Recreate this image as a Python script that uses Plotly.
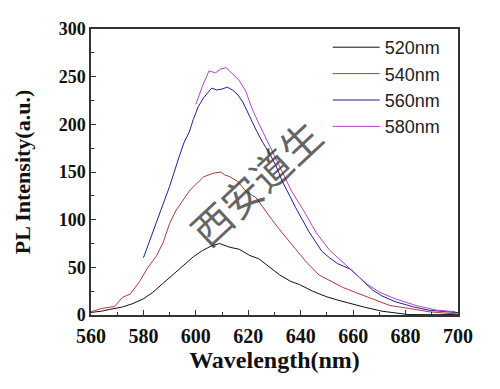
import plotly.graph_objects as go

# ---- data ----
x520 = [560, 564, 567, 572, 576, 580, 583.5, 587, 591, 595, 599, 602.5, 606, 609, 611, 613, 616.5,
        620.5, 624, 628, 632, 636, 639.5, 644.5, 650, 655, 660, 664, 671, 676, 681, 690, 700]
y520 = [2.7, 4, 5.8, 8.4, 12, 17, 23.6, 32, 42, 52, 61, 67.6, 72.6, 75, 73, 71, 69,
        62.5, 59, 50.7, 42, 35.5, 32, 25, 19, 15, 11, 8.4, 4, 2, 0.5, 0.3, 0.5]

x540 = [560, 564, 569, 572, 575, 578.5, 581.5, 585, 587.5, 590, 592.5, 595, 597.5, 600, 603, 606.5,
        609.5, 611, 613, 616, 619, 623, 625.5, 629, 633, 637, 642, 647, 652, 656, 661, 667.5,
        674, 681.5, 689, 695, 700]
y540 = [3.4, 6.8, 9, 18.5, 22, 35, 49, 62, 76, 96, 110, 120, 130, 137, 145, 148.6,
        150, 147, 145, 140, 130, 123, 113, 100, 86, 73, 56, 42, 35, 29, 23.6, 17,
        10, 6.8, 3.4, 2, 1]

x560 = [580, 585, 590, 593.5, 595.5, 597.5, 599, 601, 603, 606, 608, 610, 612, 614, 616, 618,
        620.5, 623, 625.5, 628, 630.5, 633, 636, 638, 643, 648, 651, 654, 659, 664, 667.5,
        671, 676, 683, 689, 695, 700]
y560 = [60, 97, 135, 165, 181, 192, 205, 219, 228, 238, 236, 237, 239, 236, 231, 223,
        208, 194, 181, 170, 157, 140, 124, 113, 88, 67, 60, 54, 48, 35, 26,
        20, 14, 8.5, 5, 3.5, 2.5]

x580 = [600, 602.5, 605, 607.5, 609.5, 611.5, 614, 616.5, 619, 621.5, 624, 627, 629.5, 632,
        634.5, 636.5, 641, 646, 651, 655, 659, 665, 670, 676, 684, 692, 699]
y580 = [221, 240, 256, 254, 258, 259.5, 253, 246, 235, 216, 201, 184, 170, 155,
        140, 130, 110, 86, 68, 58, 49, 33, 24, 17, 10, 5, 3.5]

series = [
    ("520nm", x520, y520, "#111111"),
    ("540nm", x540, y540, "#b03a3a"),
    ("560nm", x560, y560, "#1f1f8f"),
    ("580nm", x580, y580, "#b044c4"),
]

x_ticks = [560, 580, 600, 620, 640, 660, 680, 700]
y_ticks = [0, 50, 100, 150, 200, 250, 300]

fig = go.Figure()
for name, xs, ys, col in series:
    fig.add_trace(go.Scatter(x=xs, y=ys, mode="lines", name=name,
                             line=dict(color=col, width=1)))

common = dict(showline=True, linecolor="#333", linewidth=1.5, mirror=True,
              ticks="inside", ticklen=5, tickwidth=1.2, tickcolor="#333",
              showgrid=False, zeroline=False)

fig.update_xaxes(range=[560, 700], tickvals=x_ticks,
                 ticktext=[f"<b>{v}</b>" for v in x_ticks],
                 ticklabelstandoff=2,
                 tickfont=dict(family="Liberation Serif", size=20, color="#111"),
                 minor=dict(ticks="inside", ticklen=3, tickwidth=1, tickcolor="#333", dtick=10, tick0=560),
                 title=dict(text="<b>Wavelength(nm)</b>",
                            font=dict(family="Liberation Serif", size=24, color="#111"),
                            standoff=5),
                 **common)
fig.update_yaxes(range=[0, 300], tickvals=y_ticks,
                 ticktext=[f"<b>{v}</b>" for v in y_ticks],
                 tickfont=dict(family="Liberation Serif", size=18, color="#111"),
                 minor=dict(ticks="inside", ticklen=3, tickwidth=1, tickcolor="#333", dtick=25, tick0=0),
                 title=dict(text="<b>PL Intensity(a.u.)</b>",
                            font=dict(family="Liberation Serif", size=22, color="#111"),
                            standoff=22),
                 **common)

fig.add_annotation(x=622.7, y=139.8, xref="x", yref="y", text="西安道生",
                   showarrow=False, textangle=-43,
                   font=dict(family="Noto Sans CJK SC", size=40, color="rgba(50,50,50,0.75)"))

fig.update_layout(
    width=492, height=381,
    margin=dict(l=83, r=42, t=11, b=74),
    paper_bgcolor="white", plot_bgcolor="white",
    showlegend=True,
    legend=dict(x=0.645, y=1.0, xanchor="left", yanchor="top",
                bgcolor="rgba(0,0,0,0)", borderwidth=0,
                itemwidth=47,
                font=dict(family="Liberation Sans", size=18, color="#222")),
)

fig.write_html("out.html")
